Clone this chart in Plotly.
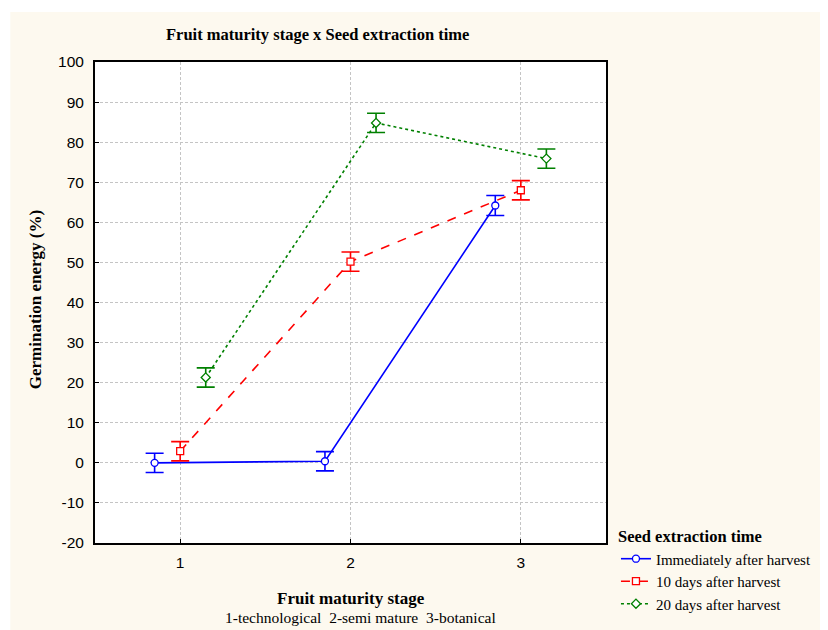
import plotly.graph_objects as go

stages = [1, 2, 3]
stage_ticks = ["1", "2", "3"]
y_ticks = [-20, -10, 0, 10, 20, 30, 40, 50, 60, 70, 80, 90, 100]
y_tick_labels = ["-20", "-10", "0", "10", "20", "30", "40", "50", "60", "70", "80", "90", "100"]
series_names = ["Immediately after harvest", "10 days after harvest", "20 days after harvest"]
immediately = [0.0, 0.4, 64.2]
days10 = [2.9, 50.2, 68.0]
days20 = [21.3, 84.8, 75.9]
se_immediately = [2.4, 2.4, 2.5]
se_days10 = [2.4, 2.4, 2.4]
se_days20 = [2.4, 2.4, 2.4]
offsets = [-0.15, 0.0, 0.15]

colors = ["#0000FF", "#FF0000", "#008000"]
symbols = ["circle", "square", "diamond"]
dashes = ["solid", "dash", "dot"]
values = [immediately, days10, days20]
errors = [se_immediately, se_days10, se_days20]

serif = "Liberation Serif, Times New Roman, serif"
sans = "Liberation Sans, Arial, sans-serif"

fig = go.Figure()
for name, vals, errs, off, c, s, d in zip(series_names, values, errors, offsets, colors, symbols, dashes):
    fig.add_trace(go.Scatter(
        x=[st + off for st in stages], y=vals, name=name,
        mode="lines+markers",
        line=dict(color=c, width=1.6, dash=d),
        marker=dict(symbol=s, size=7, color="white", line=dict(color=c, width=1.3)),
        error_y=dict(type="data", array=errs, visible=True, color=c, thickness=1.6, width=9),
    ))

# page is offset by the default 8px body margin; the figure extends slightly past the window bottom
OFF = 8
W, H = 828 - OFF, 630
L, R, T, B = 95 - OFF, 220, 62 - OFF, 95
pw, ph = W - L - R, H - T - B

def px(xp):
    return (xp - OFF - L) / pw

def py(yp):
    return (H - B - (yp - OFF)) / ph

cream = "#FDF9EF"
grid = "#C4C4C4"

fig.update_layout(
    width=W, height=H,
    margin=dict(l=L, r=R, t=T, b=B),
    paper_bgcolor=cream,
    plot_bgcolor="white",
    showlegend=True,
    legend=dict(
        x=px(618), y=py(521), xanchor="left", yanchor="top",
        bgcolor="rgba(0,0,0,0)",
        font=dict(family=serif, size=15, color="black"),
        title=dict(text="<b>Seed extraction time</b>", font=dict(family=serif, size=16.5, color="black")),
        tracegroupgap=0,
    ),
    xaxis=dict(
        range=[0.5, 3.5], tickvals=stages, ticktext=stage_ticks,
        showgrid=True, gridcolor=grid, griddash="3px,2px", gridwidth=1,
        zeroline=False, showline=True, linecolor="black", linewidth=2, mirror=True,
        ticks="inside", ticklen=4, tickcolor="black", ticklabelstandoff=4,
        tickfont=dict(family=sans, size=15.5, color="black"),
    ),
    yaxis=dict(
        range=[-20, 100], tickvals=y_ticks, ticktext=y_tick_labels,
        showgrid=True, gridcolor=grid, griddash="3px,2px", gridwidth=1,
        zeroline=False, showline=True, linecolor="black", linewidth=2, mirror=True,
        ticks="inside", ticklen=4, tickcolor="black", ticklabelstandoff=6,
        tickfont=dict(family=sans, size=15.5, color="black"),
    ),
    shapes=[
        dict(type="rect", xref="paper", yref="paper", x0=px(-5), x1=px(900), y0=py(12), y1=py(-5),
             fillcolor="white", line=dict(width=0), layer="below"),
        dict(type="rect", xref="paper", yref="paper", x0=px(-5), x1=px(10), y0=py(700), y1=py(-5),
             fillcolor="white", line=dict(width=0), layer="below"),
    ],
    annotations=[
        dict(text="<b>Fruit maturity stage x Seed extraction time</b>", xref="paper", yref="paper",
             x=px(318), y=py(35), xanchor="center", yanchor="middle", showarrow=False,
             font=dict(family=serif, size=16.5, color="black")),
        dict(text="<b>Fruit maturity stage</b>", xref="paper", yref="paper",
             x=px(352), y=py(598), xanchor="center", yanchor="middle", showarrow=False,
             font=dict(family=serif, size=17, color="black")),
        dict(text="1-technological  2-semi mature  3-botanical", xref="paper", yref="paper",
             x=px(362), y=py(617), xanchor="center", yanchor="middle", showarrow=False,
             font=dict(family=serif, size=15.5, color="black")),
        dict(text="<b>Germination energy (%)</b>", xref="paper", yref="paper",
             x=px(35), y=py(300), xanchor="center", yanchor="middle", showarrow=False, textangle=-90,
             font=dict(family=serif, size=17, color="black")),
    ],
)

fig.write_html("out.html")
